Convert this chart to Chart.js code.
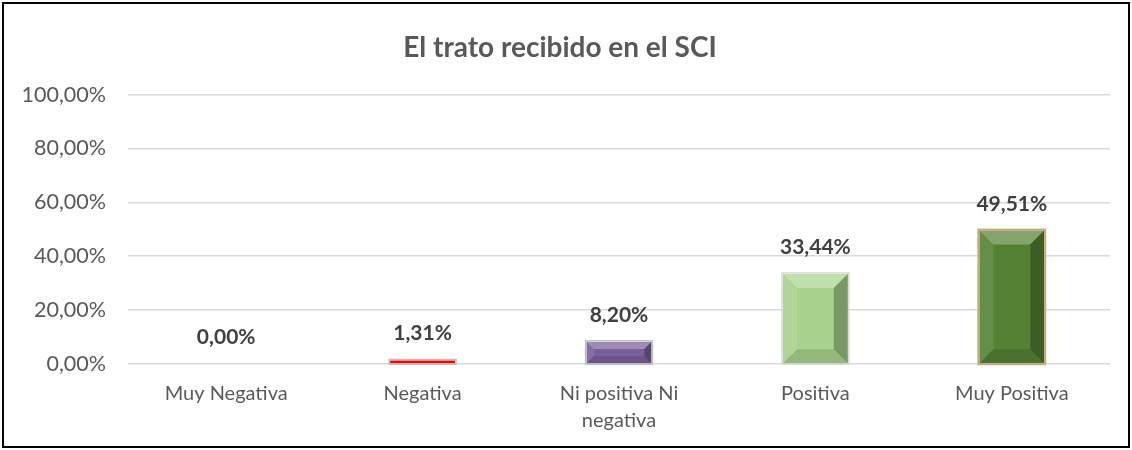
<!DOCTYPE html>
<html>
<head>
<meta charset="utf-8">
<script src="https://cdn.jsdelivr.net/npm/chart.js@4"></script>
<style>
  body { margin: 0; background: #fff; }
  #wrap { width: 1132px; height: 450px; }
</style>
</head>
<body>
<div id="wrap"><canvas id="chart"></canvas></div>
<script>
const categories = ['Muy Negativa', 'Negativa', ['Ni positiva Ni', 'negativa'], 'Positiva', 'Muy Positiva'];
const values = [0, 1.31, 8.20, 33.44, 49.51];
const barColors = ['#a6a6a6', '#ff0000', '#7a5f9a', '#a9d18e', '#548235'];
const barOutlines = ['#a6a6a6', '#bfbfbf', '#bfbfbf', '#d9d9d9', '#c9a67a'];
const yTicks = [0, 20, 40, 60, 80, 100];

const fmt = v => v.toFixed(2).replace('.', ',') + '%';

// marco negro alrededor del grafico
const framePlugin = {
    id: 'frame',
    afterDraw(chart) {
        const c = chart.ctx;
        c.save();
        c.strokeStyle = '#000';
        c.lineWidth = 2;
        c.strokeRect(3, 3, chart.width - 6, chart.height - 6);
        c.restore();
    }
};

// bisel tipo Excel y contorno exterior de las barras
const bevelPlugin = {
    id: 'bevel',
    afterDatasetsDraw(chart) {
        const c = chart.ctx;
        chart.getDatasetMeta(0).data.forEach((bar, i) => {
            const left = bar.x - bar.width / 2, right = bar.x + bar.width / 2;
            const top = bar.y, bottom = bar.base;
            const h = bottom - top, w = right - left;
            if (h < 1) return;
            c.save();
            if (h >= 6) {
                const d = Math.min(14, h / 3, w / 4);
                const face = (pts, color) => {
                    c.beginPath();
                    c.moveTo(pts[0][0], pts[0][1]);
                    pts.slice(1).forEach(p => c.lineTo(p[0], p[1]));
                    c.closePath();
                    c.fillStyle = color;
                    c.fill();
                };
                face([[left, top], [right, top], [right - d, top + d], [left + d, top + d]], 'rgba(255,255,255,0.28)');
                face([[right, top], [right, bottom], [right - d, bottom - d], [right - d, top + d]], 'rgba(0,0,0,0.28)');
                face([[left, bottom], [right, bottom], [right - d, bottom - d], [left + d, bottom - d]], 'rgba(0,0,0,0.12)');
                face([[left, top], [left + d, top + d], [left + d, bottom - d], [left, bottom]], 'rgba(255,255,255,0.1)');
            }
            c.strokeStyle = barOutlines[i];
            c.lineWidth = i === 4 ? 2 : 1.5;
            c.strokeRect(left - 1, top - 1, w + 2, h + 2);
            c.restore();
        });
    }
};

// etiquetas de valor encima de cada barra
const labelPlugin = {
    id: 'valueLabels',
    afterDatasetsDraw(chart) {
        const c = chart.ctx;
        const meta = chart.getDatasetMeta(0);
        c.save();
        c.font = 'bold 21px Lato';
        c.fillStyle = '#404040';
        c.textAlign = 'center';
        c.textBaseline = 'alphabetic';
        meta.data.forEach((bar, i) => {
            c.fillText(fmt(values[i]), bar.x, bar.y - 20);
        });
        c.restore();
    }
};

new Chart(document.getElementById('chart').getContext('2d'), {
    type: 'bar',
    data: {
        labels: categories,
        datasets: [{
            data: values,
            backgroundColor: barColors,
            borderWidth: 0,
            barPercentage: 0.33,
            categoryPercentage: 1
        }]
    },
    plugins: [framePlugin, bevelPlugin, labelPlugin],
    options: {
        responsive: true,
        maintainAspectRatio: false,
        animation: false,
        layout: { padding: { left: 10, right: 22, top: 0, bottom: 0 } },
        plugins: {
            legend: { display: false },
            tooltip: { enabled: false },
            title: {
                display: true,
                text: 'El trato recibido en el SCI',
                color: '#595959',
                font: { family: 'Lato', size: 28, weight: 'bold' },
                padding: { top: 31, bottom: 30 }
            }
        },
        scales: {
            x: {
                grid: { display: false, drawTicks: false },
                border: { display: false },
                ticks: {
                    color: '#595959',
                    font: { family: 'Lato', size: 20, lineHeight: 1.35 },
                    padding: 16,
                    maxRotation: 0,
                    autoSkip: false
                }
            },
            y: {
                min: 0,
                max: 100,
                afterBuildTicks: scale => { scale.ticks = yTicks.map(v => ({ value: v })); },
                afterFit: scale => { scale.width = 118; },
                grid: { color: '#d9d9d9', lineWidth: 1.5, drawTicks: false },
                border: { display: false },
                ticks: {
                    color: '#595959',
                    font: { family: 'Lato', size: 21.5 },
                    padding: 22,
                    callback: v => fmt(v)
                }
            }
        }
    }
});
</script>
</body>
</html>
